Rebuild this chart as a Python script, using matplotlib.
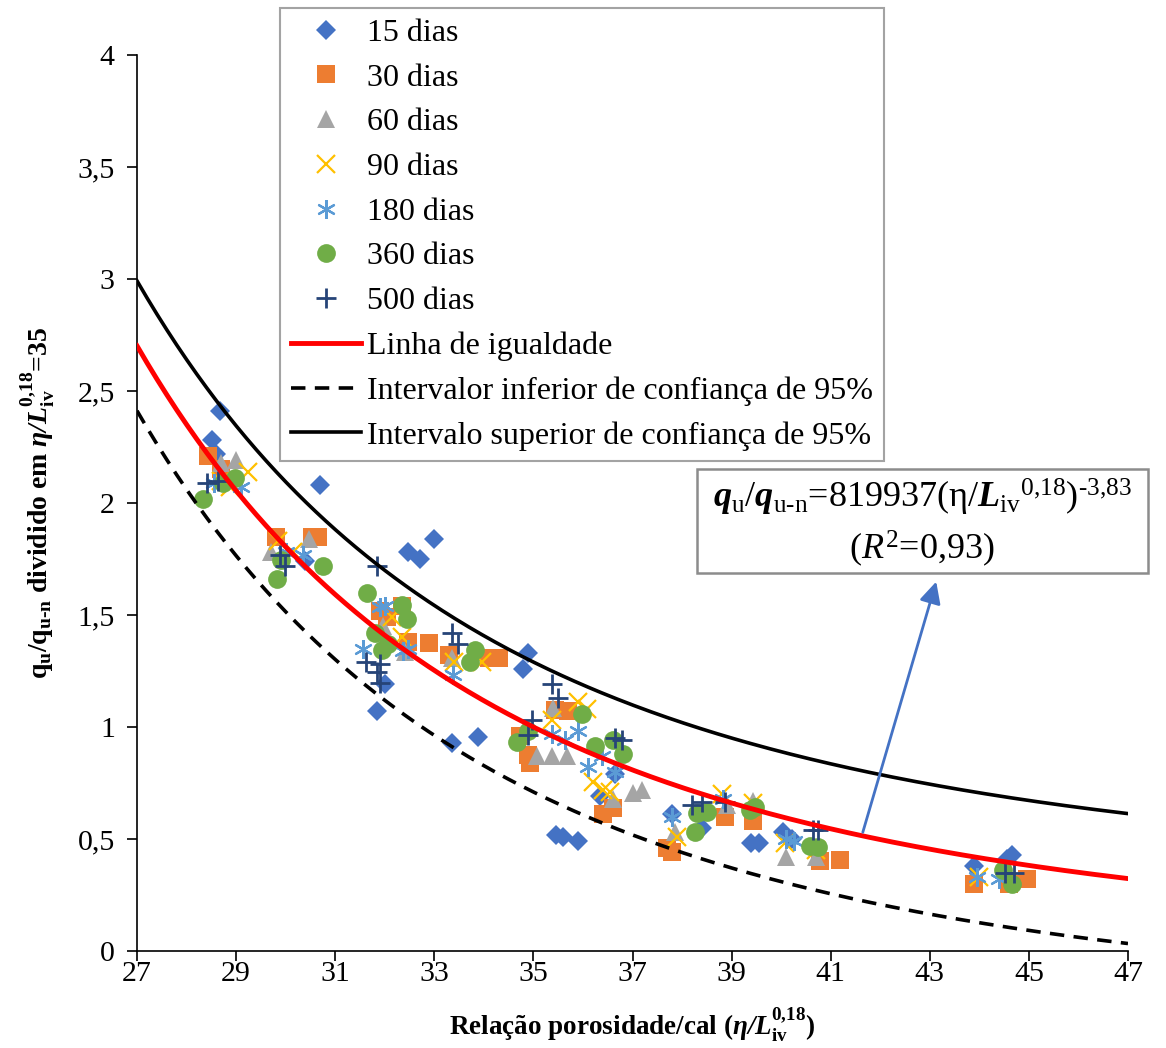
import numpy as np
import matplotlib
matplotlib.use("Agg")
import matplotlib.pyplot as plt
from matplotlib.patches import Rectangle, FancyArrowPatch

plt.rcParams['font.family'] = ['Liberation Serif', 'DejaVu Serif']
plt.rcParams['mathtext.fontset'] = 'custom'
plt.rcParams['mathtext.rm'] = 'Liberation Serif'
plt.rcParams['mathtext.it'] = 'Liberation Serif:italic'
plt.rcParams['mathtext.bf'] = 'Liberation Serif:bold'
plt.rcParams['mathtext.bfit'] = 'Liberation Serif:italic:bold'

# ---- data -------------------------------------------------------------
series_labels = ["15 dias", "30 dias", "60 dias", "90 dias", "180 dias", "360 dias", "500 dias"]

d15_x = [28.51, 28.68, 28.6, 30.39, 30.69, 32.47, 32.71, 33.0, 32.0, 31.85, 33.36, 33.88, 34.8, 34.89,
         36.35, 36.65, 35.45, 35.6, 35.9, 37.8, 38.4, 39.4, 39.55, 40.04, 40.22, 43.9, 44.55, 44.66]
d15_y = [2.28, 2.41, 2.22, 1.74, 2.08, 1.78, 1.75, 1.84, 1.19, 1.07, 0.93, 0.955, 1.26, 1.33,
         0.69, 0.79, 0.52, 0.51, 0.49, 0.61, 0.55, 0.48, 0.48, 0.53, 0.50, 0.38, 0.41, 0.43]

d30_x = [28.43, 28.7, 29.8, 30.53, 30.65, 31.9, 32.05, 32.35, 32.47, 32.9, 33.3, 34.1, 34.3, 34.73, 34.9,
         34.93, 35.44, 35.7, 36.4, 36.6, 37.7, 37.8, 38.87, 39.43, 40.78, 41.19, 43.9, 44.6, 44.96]
d30_y = [2.21, 2.15, 1.85, 1.85, 1.85, 1.52, 1.49, 1.54, 1.38, 1.375, 1.32, 1.31, 1.31, 0.96, 0.875,
         0.84, 1.075, 1.07, 0.61, 0.64, 0.46, 0.44, 0.60, 0.58, 0.40, 0.405, 0.30, 0.30, 0.32]

d60_x = [28.7, 29.0, 29.7, 30.47, 31.97, 32.4, 33.36, 35.4, 35.07, 35.38, 35.68, 36.6, 37.0, 37.2,
         37.86, 38.9, 39.43, 40.1, 40.7]
d60_y = [2.18, 2.19, 1.78, 1.84, 1.45, 1.335, 1.31, 1.085, 0.87, 0.87, 0.87, 0.68, 0.705, 0.72,
         0.53, 0.65, 0.67, 0.42, 0.42]

d90_x = [28.7, 28.88, 29.24, 29.85, 30.15, 32.15, 32.35, 33.4, 33.96, 35.37, 35.9, 36.08, 36.2, 36.4,
         36.55, 37.9, 38.8, 39.43, 40.08, 40.7, 44.0]
d90_y = [2.10, 2.07, 2.14, 1.83, 1.78, 1.49, 1.40, 1.29, 1.29, 1.03, 1.11, 1.08, 0.755, 0.72,
         0.71, 0.51, 0.70, 0.66, 0.48, 0.45, 0.33]

d180_x = [28.55, 29.1, 30.0, 30.35, 31.9, 32.0, 31.56, 32.37, 32.47, 33.38, 35.37, 35.63, 35.9, 36.1,
          36.38, 36.65, 37.8, 38.83, 40.1, 40.25, 43.95, 44.4]
d180_y = [2.09, 2.07, 1.78, 1.77, 1.535, 1.54, 1.35, 1.34, 1.35, 1.23, 0.97, 0.94, 0.98, 0.82,
          0.87, 0.80, 0.60, 0.68, 0.50, 0.49, 0.33, 0.32]

d360_x = [28.33, 28.73, 28.98, 29.83, 29.9, 30.75, 31.65, 32.35, 32.45, 31.8, 32.07, 31.95, 33.82, 33.73,
          34.67, 34.9, 35.98, 36.24, 36.6, 36.8, 38.27, 38.3, 38.5, 39.37, 39.47, 40.58, 40.74, 44.48, 44.66]
d360_y = [2.02, 2.09, 2.11, 1.66, 1.745, 1.72, 1.60, 1.545, 1.48, 1.42, 1.37, 1.345, 1.345, 1.29,
          0.935, 0.98, 1.06, 0.915, 0.94, 0.88, 0.53, 0.615, 0.62, 0.63, 0.645, 0.47, 0.465, 0.36, 0.30]

d500_x = [28.41, 28.64, 29.89, 29.99, 31.85, 31.62, 31.85, 31.9, 31.9, 33.36, 33.48, 35.37, 35.5, 34.97,
          34.9, 36.65, 36.78, 38.2, 38.4, 38.87, 40.65, 40.75, 44.52, 44.7]
d500_y = [2.09, 2.10, 1.77, 1.72, 1.72, 1.29, 1.245, 1.28, 1.195, 1.42, 1.37, 1.19, 1.13, 1.03,
          0.965, 0.95, 0.94, 0.65, 0.665, 0.665, 0.54, 0.54, 0.35, 0.35]

# fitted model shown in the chart: qu/qu-n = 819937 (eta/Liv^0.18)^-3.83, 95% band +-0.29
fit_coef = 819937
fit_exp = -3.83
band_halfwidth = 0.29
x_range = (27, 47)

line_labels = ["Linha de igualdade",
               "Intervalor inferior de confiança de 95%",
               "Intervalo superior de confiança de 95%"]

x_ticks = [27, 29, 31, 33, 35, 37, 39, 41, 43, 45, 47]
y_ticks = [0, 0.5, 1, 1.5, 2, 2.5, 3, 3.5, 4]
y_ticklabels = ["0", "0,5", "1", "1,5", "2", "2,5", "3", "3,5", "4"]

# ---- figure -----------------------------------------------------------
W, H = 1166, 1048
fig = plt.figure(figsize=(W / 100, H / 100), dpi=100)
ax = fig.add_axes([137 / W, 1 - 951 / H, (1128 - 137) / W, (951 - 55) / H])

styles = [
    dict(marker='D', color='#4472C4', ms=10.5, mew=0),
    dict(marker='s', color='#ED7D31', ms=12.5, mew=0),
    dict(marker='^', color='#A5A5A5', ms=13.5, mew=0),
    dict(marker='x', color='#FFC000', ms=12.5, mew=1.6),
    dict(marker=(6, 2, 0), color='#5B9BD5', ms=13.5, mew=1.6),
    dict(marker='o', color='#70AD47', ms=13.5, mew=0),
    dict(marker='+', color='#264478', ms=14, mew=2.0),
]
data = [(d15_x, d15_y), (d30_x, d30_y), (d60_x, d60_y), (d90_x, d90_y),
        (d180_x, d180_y), (d360_x, d360_y), (d500_x, d500_y)]

handles = []
for (xs, ys), st, lab in zip(data, styles, series_labels):
    h, = ax.plot(xs, ys, linestyle='none', marker=st['marker'], color=st['color'],
                 markersize=st['ms'], markeredgewidth=st['mew'], label=lab, zorder=3)
    handles.append(h)

xc = np.linspace(x_range[0], x_range[1], 300)
fit = fit_coef * xc ** fit_exp
l1, = ax.plot(xc, fit, color='#FF0000', lw=3.5, zorder=4, label=line_labels[0])
l2, = ax.plot(xc, fit - band_halfwidth, color='black', lw=2.6, ls=(0, (4.0, 2.6)), zorder=4,
              label=line_labels[1])
l3, = ax.plot(xc, fit + band_halfwidth, color='black', lw=2.6, zorder=4, label=line_labels[2])
handles += [l1, l2, l3]

ax.set_xlim(27, 47)
ax.set_ylim(0, 4)
ax.set_xticks(x_ticks)
ax.set_xticklabels([str(t) for t in x_ticks])
ax.set_yticks(y_ticks)
ax.set_yticklabels(y_ticklabels)
ax.spines['top'].set_visible(False)
ax.spines['right'].set_visible(False)
for s in ('left', 'bottom'):
    ax.spines[s].set_linewidth(1.2)
ax.tick_params(axis='both', direction='out', length=7, width=1.2, labelsize=21.5)
ax.tick_params(axis='y', pad=9)
ax.tick_params(axis='x', pad=0.5)

ax.set_xlabel(r"Relação porosidade/cal ($\mathbfit{\eta/L}_{\mathbf{iv}}^{\mathbf{0{,}18}}$)",
              fontsize=19.5, fontweight='bold', labelpad=14)
ax.set_ylabel(r"$\mathbf{q_{u}/q_{u‐n}}$ dividido em $\mathbfit{\eta/L}_{\mathbf{iv}}^{\mathbf{0{,}18}}$=35",
              fontsize=20, fontweight='bold', labelpad=15)

leg = fig.legend(handles=handles, loc='upper left', bbox_to_anchor=(280 / W, 1 - 8 / H),
                 bbox_transform=fig.transFigure, fontsize=23, frameon=True, fancybox=False,
                 handlelength=2.2, handletextpad=0.2, labelspacing=0.48, borderpad=0.33,
                 borderaxespad=0)
leg.get_frame().set_edgecolor('#8C8C8C')
leg.get_frame().set_linewidth(1.5)

# annotation box with the equation
fig.patches.append(Rectangle((697 / W, 1 - 573 / H), (1148 - 697) / W, (573 - 469) / H,
                             transform=fig.transFigure, facecolor='white', edgecolor='#8C8C8C',
                             linewidth=1.8, zorder=5))
fig.text(922 / W, 1 - 497 / H,
         r"$\mathbfit{q}_{\mathrm{u}}/\mathbfit{q}_{\mathrm{u‐n}}$=819937(η/$\mathbfit{L}_{\mathrm{iv}}{}^{\mathrm{0{,}18}}\mathrm{)}^{\mathrm{‐3{,}83}}$",
         ha='center', va='center', fontsize=26, zorder=6)
fig.text(922 / W, 1 - 549 / H, r"($\mathit{R}^{2}$=0,93)", ha='center', va='center',
         fontsize=26, zorder=6)

arr = FancyArrowPatch((862 / W, 1 - 835 / H), (937 / W, 1 - 579 / H), transform=fig.transFigure,
                      arrowstyle='-|>,head_length=13,head_width=6.5', mutation_scale=1,
                      color='#4472C4', lw=2, zorder=6)
fig.patches.append(arr)

fig.savefig("out.png", dpi=100)
